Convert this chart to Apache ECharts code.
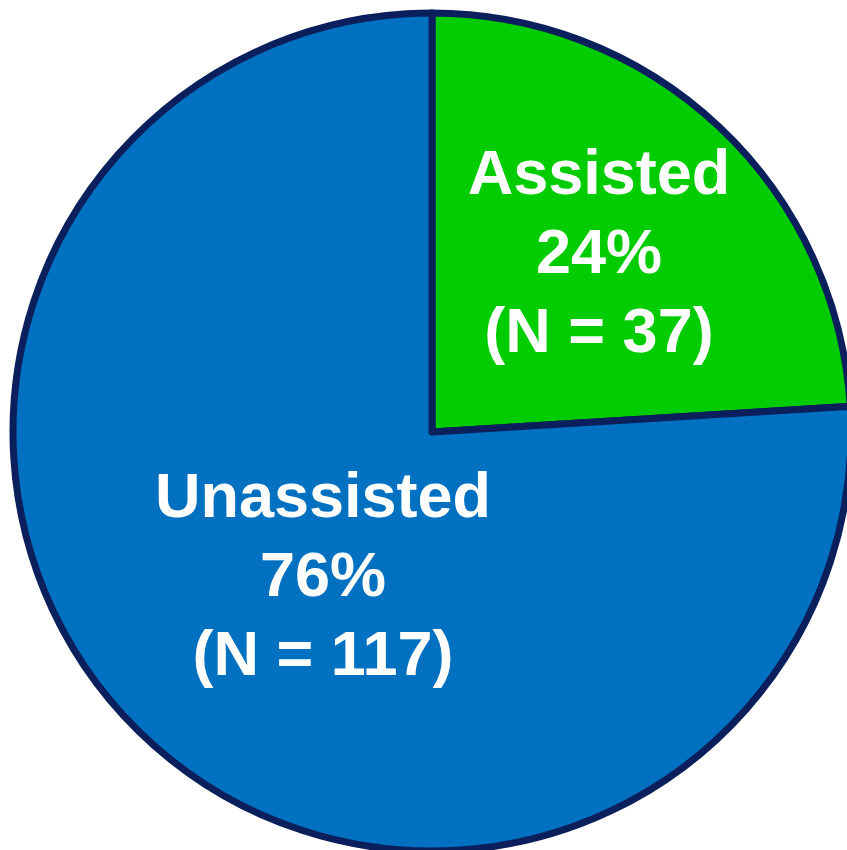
<!DOCTYPE html>
<html>
<head>
<meta charset="utf-8">
<script src="https://cdn.jsdelivr.net/npm/echarts@6/dist/echarts.min.js"></script>
<style>
  html, body { margin: 0; padding: 0; background: #ffffff; }
  #chart { width: 847px; height: 850px; }
</style>
</head>
<body>
<div id="chart"></div>
<script>
const categories = ['Assisted', 'Unassisted'];
const counts = [37, 117];
const percents = [24, 76];
const colors = ['#00CC00', '#0070C0'];

const chart = echarts.init(document.getElementById('chart'), null, { renderer: 'canvas' });

const labelPos = [[599, 256], [323, 579]];

chart.setOption({
  backgroundColor: '#ffffff',
  animation: false,
  series: [{
    type: 'pie',
    center: [432, 432],
    radius: [0, 419],
    startAngle: 90,
    clockwise: true,
    silent: true,
    data: categories.map((c, i) => ({
      name: c,
      value: counts[i],
      itemStyle: { color: colors[i] }
    })),
    itemStyle: { borderColor: '#0B1F5C', borderWidth: 7 },
    label: {
      show: true,
      position: 'inside',
      formatter: p => p.name + '\n' + percents[p.dataIndex] + '%\n(N = ' + p.value + ')',
      color: '#ffffff',
      fontFamily: 'Liberation Sans, Arial, sans-serif',
      fontWeight: 'bold',
      fontSize: 63,
      lineHeight: 79,
      align: 'center',
      verticalAlign: 'middle'
    },
    labelLine: { show: false },
    labelLayout: p => ({ x: labelPos[p.dataIndex][0], y: labelPos[p.dataIndex][1], align: 'center', verticalAlign: 'middle' })
  }]
});
</script>
</body>
</html>
